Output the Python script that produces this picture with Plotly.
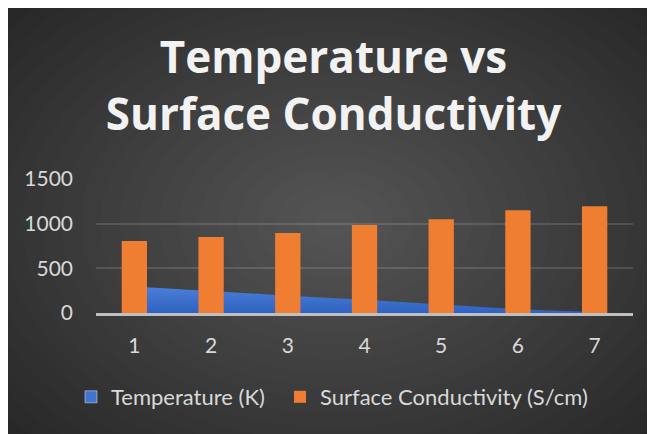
import plotly.graph_objects as go

# ---- data ----
categories = [1, 2, 3, 4, 5, 6, 7]
temperature_k = [298, 243, 194, 147, 97, 42, 10]
surface_conductivity = [805, 850, 895, 985, 1050, 1150, 1195]
y_ticks = [0, 500, 1000, 1500]
title_lines = ["Temperature vs", "Surface Conductivity"]
series_names = ["Temperature (K)", "Surface Conductivity (S/cm)"]

# ---- layout geometry (figure pixels) ----
W, H = 655, 434
ML, MR, MT, MB = 88, 30, 171, 129
PW, PH = W - ML - MR, H - MT - MB


def px2x(px):
    return (px - ML) / PW


def px2y(py):
    return (H - MB - py) / PH


TXT = "#d9d9d9"
FONT = "Lato"

fig = go.Figure()

# area (main axes, drawn underneath the bars)
fig.add_trace(go.Scatter(
    x=categories, y=temperature_k, mode="lines", line=dict(width=0, color="#3f74cf"),
    fill="tozeroy",
    fillgradient=dict(type="vertical", colorscale=[[0, "#2f62c2"], [1, "#4c7fd7"]]),
    name=series_names[0], showlegend=False, legendgroup="t", hoverinfo="x+y",
    xaxis="x", yaxis="y",
))
# legend proxy with square swatch
fig.add_trace(go.Bar(
    x=[None], y=[None], name=series_names[0], marker=dict(color="#3f74cf"),
    legendgroup="t", showlegend=True, xaxis="x", yaxis="y", legend="legend",
))
# columns (overlay axes, drawn on top)
fig.add_trace(go.Bar(
    x=categories, y=surface_conductivity, name=series_names[1], width=0.33,
    marker=dict(color="#ef7d32", line=dict(width=0)),
    xaxis="x2", yaxis="y2", legend="legend2",
))

# ---- background: soft radial glow ----
shapes = []
cx, cy = 327, 215
N = 22
for i in range(N):
    f = 1 - i / N
    rx, ry = 430 * f, 300 * f
    shapes.append(dict(type="circle", xref="paper", yref="paper", layer="below",
                       x0=px2x(cx - rx), x1=px2x(cx + rx),
                       y0=px2y(cy + ry), y1=px2y(cy - ry),
                       fillcolor="rgba(255,255,255,0.0115)", line=dict(width=0)))

legend_common = dict(orientation="h", xanchor="left", y=px2y(389), yanchor="middle",
                     font=dict(family=FONT, size=22, color=TXT),
                     bgcolor="rgba(0,0,0,0)", itemwidth=30)

axis_common = dict(range=[0.5, 7.5], fixedrange=True)
fig.update_layout(
    width=W, height=H, autosize=False,
    margin=dict(l=ML, r=MR, t=MT, b=MB, pad=0),
    paper_bgcolor="#282828", plot_bgcolor="rgba(0,0,0,0)",
    shapes=shapes,
    barmode="group",
    title=dict(text="<b>" + "<br>".join(title_lines) + "</b>",
               font=dict(family="Open Sans", size=44, color="#f2f2f2"),
               x=325.5 / W, xref="container", xanchor="center",
               y=1 - 65 / H, yref="container", yanchor="top"),
    xaxis=dict(**axis_common, tickmode="array", tickvals=categories,
               ticktext=[str(c) for c in categories],
               showgrid=False, zeroline=False, showline=True,
               linecolor="#bfbfbf", linewidth=2.5,
               ticks="", ticklabelstandoff=12,
               tickfont=dict(family=FONT, size=21, color=TXT)),
    yaxis=dict(range=[0, 1500], tickmode="array", tickvals=y_ticks,
               showgrid=True, gridcolor="rgba(255,255,255,0.13)", gridwidth=1.5,
               zeroline=False, showline=False, ticks="", ticklabelstandoff=22,
               tickfont=dict(family=FONT, size=21, color=TXT), fixedrange=True),
    xaxis2=dict(**axis_common, overlaying="x", visible=False),
    yaxis2=dict(range=[0, 1500], overlaying="y", visible=False, fixedrange=True),
    legend=dict(**legend_common, x=px2x(63)),
    legend2=dict(**legend_common, x=px2x(272)),
    showlegend=True,
)

fig.write_html("out.html")
